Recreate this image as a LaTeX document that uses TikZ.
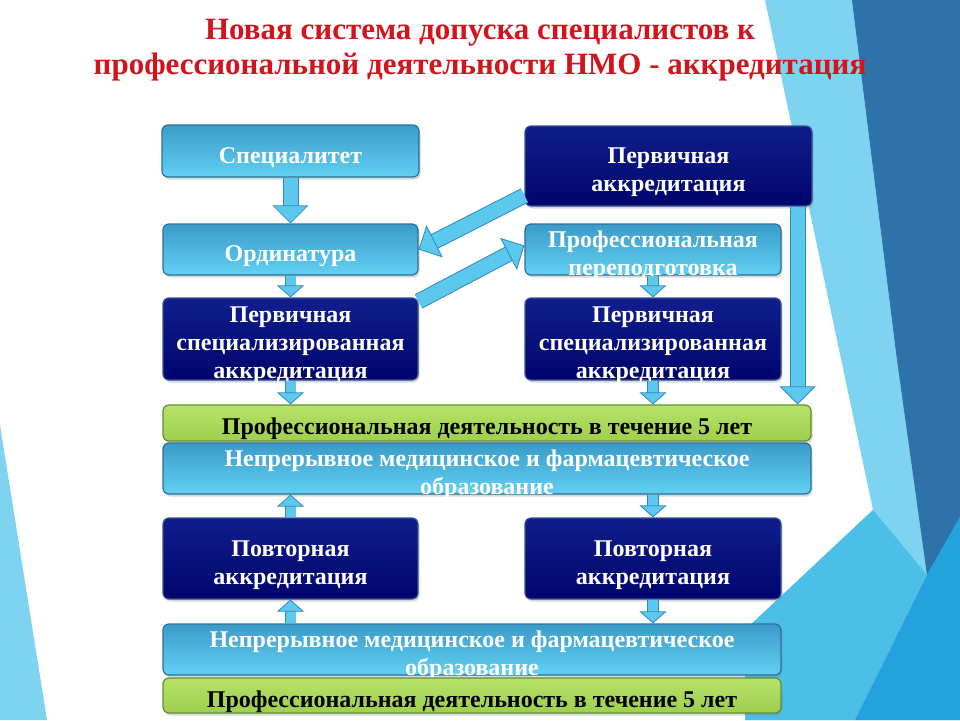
\documentclass[tikz,border=0pt]{standalone}
\usepackage{fontspec}
\setmainfont{Liberation Serif}
\usetikzlibrary{arrows.meta,shadows}

\definecolor{titlered}{HTML}{D4141C}
\definecolor{skytop}{HTML}{3A9CC8}
\definecolor{skybot}{HTML}{62D0F3}
\definecolor{skyedge}{HTML}{2B7198}
\definecolor{navytop}{HTML}{101E8C}
\definecolor{navybot}{HTML}{00056C}
\definecolor{navyedge}{HTML}{34509A}
\definecolor{greentop}{HTML}{B6E26A}
\definecolor{greenbot}{HTML}{9ECF4C}
\definecolor{greenedge}{HTML}{5F8E33}
\definecolor{arrowfill}{HTML}{5CC8EE}
\definecolor{arrowedge}{HTML}{2E8CBC}
\definecolor{bglight}{HTML}{7ED3F1}
\definecolor{bgmid}{HTML}{4CBFE9}
\definecolor{bgdark}{HTML}{2F71A9}
\definecolor{bgbright}{HTML}{22A3DC}

% taller first line, so the text sits a little low in its box
\newcommand{\boxstrut}{\rule{0pt}{28.5pt}}

\tikzset{
  box/.style={rectangle, rounded corners=6pt, line width=1.2pt, inner xsep=0pt, inner ysep=-7pt,
    align=center, font=\bfseries\fontsize{24}{28}\selectfont,
    drop shadow={opacity=0.3, shadow xshift=1.5pt, shadow yshift=-2.5pt}},
  skybox/.style={box, draw=skyedge, top color=skytop, bottom color=skybot, text=white},
  navybox/.style={box, draw=navyedge, top color=navytop, bottom color=navybot, text=white},
  greenbox/.style={box, draw=greenedge, top color=greentop, bottom color=greenbot, text=black},
  bigflow/.style={draw=arrowfill, line width=14pt,
    preaction={draw=arrowedge, line width=16pt, arrows=-, shorten >=14pt},
    -{Triangle[width=36pt, length=18pt, line width=0.8pt, color=arrowedge, fill=arrowfill]}},
  smallflow/.style={draw=arrowfill, line width=10pt,
    preaction={draw=arrowedge, line width=11.6pt, arrows=-, shorten >=10pt},
    -{Triangle[width=27pt, length=12pt, line width=0.8pt, color=arrowedge, fill=arrowfill]}},
}

\begin{document}
\begin{tikzpicture}[x=1pt, y=-1pt]
  \useasboundingbox (0,0) rectangle (960,720);
  % background
  \fill[white] (0,0) rectangle (960,720);
  \fill[bglight] (0,425) -- (0,720) -- (47,720) -- cycle;
  \fill[bglight] (765,0) -- (960,0) -- (960,720) -- (745,720) -- (745,630) -- (873,510) -- cycle;
  \fill[bgmid] (873,510) -- (927,575) -- (855,720) -- (745,720) -- (745,630) -- cycle;
  \fill[bgdark] (852,0) -- (960,0) -- (960,517) -- (927,575) -- (897,360) -- cycle;
  \fill[bgbright] (960,517) -- (960,720) -- (855,720) -- (927,575) -- cycle;

  % title
  \node[text=titlered, align=center, font=\bfseries\fontsize{31}{35}\selectfont] (head) at (480,50)
    {Новая система допуска специалистов к\\профессиональной деятельности НМО - аккредитация};

  % boxes
  \node[skybox, minimum width=257pt, minimum height=52pt] (spec) at (290.5,151) {\boxstrut Специалитет};
  \node[navybox, minimum width=287pt, minimum height=80pt] (pa) at (668.5,166) {\boxstrut Первичная\\аккредитация};
  \node[skybox, minimum width=255pt, minimum height=51pt] (ord) at (290.5,249.5) {\boxstrut Ординатура};
  \node[skybox, minimum width=256pt, minimum height=51pt] (prof) at (653,249.5) {\boxstrut Профессиональная\\переподготовка};
  \node[navybox, minimum width=255pt, minimum height=82pt] (psa1) at (290.5,339) {\boxstrut Первичная\\специализированная\\аккредитация};
  \node[navybox, minimum width=256pt, minimum height=82pt] (psa2) at (653,339) {\boxstrut Первичная\\специализированная\\аккредитация};
  \node[greenbox, minimum width=648pt, minimum height=36pt] (work1) at (487,423) {\boxstrut Профессиональная деятельность в течение 5 лет};
  \node[skybox, minimum width=648pt, minimum height=51pt] (edu1) at (487,468.5) {\boxstrut Непрерывное медицинское и фармацевтическое\\образование};
  \node[navybox, minimum width=255pt, minimum height=81pt] (rep1) at (290.5,558.5) {\boxstrut Повторная\\аккредитация};
  \node[navybox, minimum width=256pt, minimum height=81pt] (rep2) at (653,558.5) {\boxstrut Повторная\\аккредитация};
  \node[skybox, minimum width=618pt, minimum height=51pt] (edu2) at (472,649.5) {\boxstrut Непрерывное медицинское и фармацевтическое\\образование};
  \node[greenbox, minimum width=618pt, minimum height=35pt] (work2) at (472,695.5) {\boxstrut Профессиональная деятельность в течение 5 лет};

  % arrows
  \draw[bigflow] (spec.south) -- (ord.north);
  \draw[smallflow] (ord.south) -- (psa1.north);
  \draw[smallflow] (psa1.south) -- (psa1.south |- work1.north);
  \draw[smallflow] (prof.south) -- (psa2.north);
  \draw[smallflow] (psa2.south) -- (psa2.south |- work1.north);
  \draw[bigflow] ([xshift=-15pt]pa.south east) -- ([xshift=-15pt]pa.south east |- work1.north);
  \draw[bigflow] ([yshift=11pt]pa.south west) -- (ord.east);
  \draw[bigflow] ([yshift=-4pt]psa1.north east) -- ([yshift=4pt]prof.west);
  \draw[smallflow] (rep1.north) -- (rep1.north |- edu1.south);
  \draw[smallflow] (edu1.south -| rep2.north) -- (rep2.north);
  \draw[smallflow] (edu2.north -| rep1.south) -- (rep1.south);
  \draw[smallflow] (rep2.south) -- (rep2.south |- edu2.north);
\end{tikzpicture}
\end{document}
